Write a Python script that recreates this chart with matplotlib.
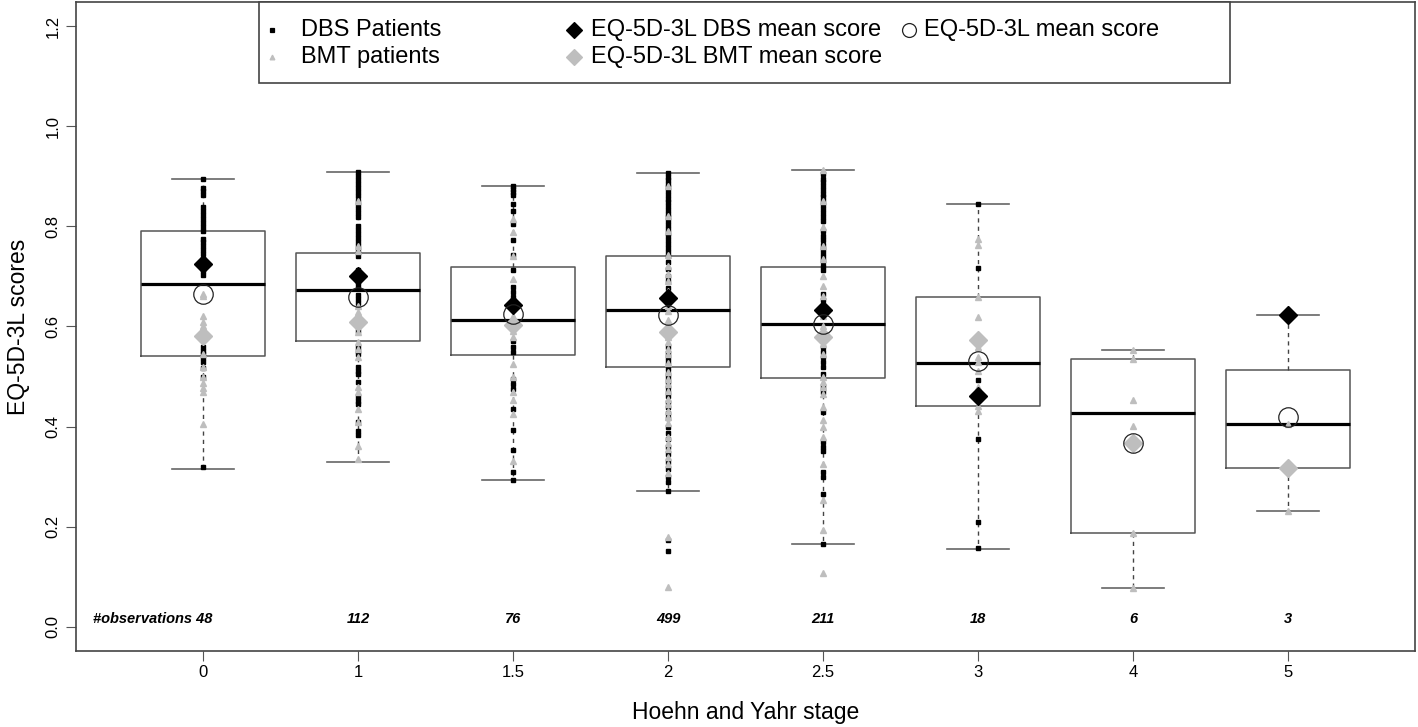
import numpy as np
import matplotlib
matplotlib.use("Agg")
import matplotlib.pyplot as plt
from matplotlib.patches import Rectangle

plt.rcParams['font.family'] = ['Liberation Sans', 'DejaVu Sans']

# Hoehn and Yahr stages and number of observations
stages = ['0', '1', '1.5', '2', '2.5', '3', '4', '5']
n_obs = [48, 112, 76, 499, 211, 18, 6, 3]

# box statistics
whislo = [0.315, 0.329, 0.294, 0.271, 0.166, 0.156, 0.077, 0.231]
q1 = [0.542, 0.572, 0.544, 0.520, 0.497, 0.442, 0.188, 0.318]
med = [0.685, 0.672, 0.613, 0.633, 0.604, 0.528, 0.427, 0.405]
q3 = [0.790, 0.747, 0.719, 0.741, 0.718, 0.659, 0.535, 0.514]
whishi = [0.895, 0.909, 0.880, 0.906, 0.912, 0.844, 0.554, 0.623]

# mean scores
dbs_mean = [0.724, 0.700, 0.642, 0.657, 0.633, 0.462, np.nan, 0.623]
bmt_mean = [0.581, 0.608, 0.602, 0.589, 0.580, 0.574, 0.367, 0.318]
all_mean = [0.665, 0.659, 0.624, 0.622, 0.604, 0.531, 0.367, 0.419]

# individual patient scores (visible values)
dbs_points = [
    [0.895, 0.877, 0.870, 0.862, 0.838, 0.830, 0.822, 0.815, 0.806, 0.798, 0.790,
     0.775, 0.768, 0.760, 0.752, 0.745, 0.735, 0.728, 0.718, 0.710, 0.702, 0.560,
     0.552, 0.545, 0.538, 0.530, 0.518, 0.500, 0.319],
    [0.909, 0.900, 0.892, 0.885, 0.876, 0.868, 0.860, 0.850, 0.842, 0.835, 0.826,
     0.818, 0.800, 0.792, 0.784, 0.776, 0.768, 0.760, 0.748, 0.740, 0.712, 0.704,
     0.696, 0.688, 0.680, 0.662, 0.655, 0.646, 0.600, 0.592, 0.560, 0.552, 0.545,
     0.520, 0.512, 0.505, 0.490, 0.460, 0.452, 0.445, 0.410, 0.392, 0.384],
    [0.880, 0.875, 0.868, 0.862, 0.845, 0.830, 0.805, 0.772, 0.742, 0.712, 0.678,
     0.668, 0.659, 0.650, 0.572, 0.559, 0.549, 0.496, 0.486, 0.476, 0.436, 0.393,
     0.353, 0.310, 0.294],
    [0.906, 0.898, 0.892, 0.885, 0.878, 0.870, 0.862, 0.855, 0.848, 0.840, 0.832,
     0.825, 0.818, 0.810, 0.802, 0.795, 0.787, 0.780, 0.772, 0.765, 0.757, 0.748,
     0.740, 0.728, 0.715, 0.700, 0.690, 0.676, 0.662, 0.655, 0.560, 0.548, 0.540,
     0.532, 0.524, 0.515, 0.505, 0.498, 0.490, 0.480, 0.470, 0.462, 0.450, 0.440,
     0.428, 0.418, 0.400, 0.388, 0.376, 0.360, 0.346, 0.330, 0.316, 0.300, 0.290,
     0.271, 0.174, 0.152],
    [0.905, 0.895, 0.888, 0.880, 0.872, 0.865, 0.858, 0.850, 0.842, 0.835, 0.826,
     0.818, 0.810, 0.790, 0.780, 0.772, 0.762, 0.755, 0.746, 0.738, 0.730, 0.720,
     0.712, 0.665, 0.652, 0.640, 0.560, 0.550, 0.540, 0.530, 0.520, 0.505, 0.480,
     0.470, 0.430, 0.370, 0.360, 0.352, 0.309, 0.300, 0.266, 0.166],
    [0.844, 0.717, 0.494, 0.376, 0.210, 0.158],
    [],
    [0.623],
]
bmt_points = [
    [0.665, 0.620, 0.608, 0.600, 0.592, 0.545, 0.520, 0.500, 0.488, 0.478, 0.470,
     0.405, 0.660],
    [0.850, 0.760, 0.750, 0.640, 0.628, 0.590, 0.570, 0.555, 0.540, 0.480, 0.470,
     0.436, 0.410, 0.362, 0.335],
    [0.815, 0.788, 0.740, 0.695, 0.620, 0.592, 0.579, 0.526, 0.500, 0.470, 0.453,
     0.426, 0.332],
    [0.880, 0.820, 0.790, 0.742, 0.720, 0.705, 0.690, 0.670, 0.650, 0.640, 0.630,
     0.612, 0.600, 0.590, 0.580, 0.570, 0.555, 0.545, 0.528, 0.510, 0.495, 0.485,
     0.472, 0.455, 0.445, 0.432, 0.420, 0.408, 0.380, 0.368, 0.355, 0.340, 0.325,
     0.308, 0.180, 0.080],
    [0.912, 0.850, 0.798, 0.760, 0.735, 0.700, 0.680, 0.660, 0.620, 0.600, 0.575,
     0.565, 0.545, 0.500, 0.490, 0.480, 0.466, 0.440, 0.414, 0.400, 0.380, 0.326,
     0.253, 0.193, 0.107],
    [0.775, 0.762, 0.659, 0.619, 0.575, 0.560, 0.540, 0.530, 0.512, 0.480, 0.442,
     0.432],
    [0.554, 0.535, 0.454, 0.401, 0.188, 0.077],
    [0.405, 0.231],
]

pos = np.arange(1, len(stages) + 1)
gray = '#BEBEBE'

fig = plt.figure(figsize=(14.18, 7.27), dpi=100)
ax = fig.add_axes([76 / 1418, 76 / 727, 1339 / 1418, 649 / 727])

stats = []
for i in range(len(stages)):
    stats.append(dict(whislo=whislo[i], q1=q1[i], med=med[i], q3=q3[i],
                      whishi=whishi[i], fliers=[]))

ax.bxp(stats, positions=pos, widths=0.8, capwidths=0.4, showfliers=False,
       boxprops=dict(color='#555555', lw=1.1),
       medianprops=dict(color='black', lw=2.3),
       whiskerprops=dict(color='#444444', lw=1.0, linestyle=(0, (3, 3))),
       capprops=dict(color='#666666', lw=1.2))

for i in range(len(stages)):
    if dbs_points[i]:
        ax.plot(np.full(len(dbs_points[i]), pos[i]), dbs_points[i], 's',
                color='black', ms=3.5, ls='none', zorder=3)
for i in range(len(stages)):
    if bmt_points[i]:
        ax.plot(np.full(len(bmt_points[i]), pos[i]), bmt_points[i], '^',
                color=gray, ms=3.8, ls='none', zorder=3)

ax.plot(pos, dbs_mean, 'D', color='black', ms=8.8, ls='none', zorder=4)
ax.plot(pos, bmt_mean, 'D', color=gray, ms=8.8, ls='none', zorder=4)
ax.plot(pos, all_mean, 'o', mfc='none', mec='#222222', mew=0.9, ms=14,
        ls='none', zorder=5)

# observation counts
for i, n in enumerate(n_obs):
    if i == 0:
        ax.text(pos[i] + 0.058, 0.015, '#observations %d' % n, ha='right',
                va='center', fontsize=10.5, fontweight='bold', style='italic')
    else:
        ax.text(pos[i], 0.015, str(n), ha='center', va='center',
                fontsize=10.5, fontweight='bold', style='italic')

ax.set_xlim(0.18, 8.82)
ax.set_ylim(-0.048, 1.248)
ax.set_xticks(pos)
ax.set_xticklabels(stages)
ax.set_yticks([0.0, 0.2, 0.4, 0.6, 0.8, 1.0, 1.2])
ax.set_yticklabels(['0.0', '0.2', '0.4', '0.6', '0.8', '1.0', '1.2'],
                   rotation=90, va='center')
ax.tick_params(axis='both', labelsize=12, length=7, color='#555555')
ax.tick_params(axis='x', pad=3)
ax.tick_params(axis='y', pad=4)
for s in ax.spines.values():
    s.set_color('#444444')
    s.set_linewidth(1.2)

ax.set_xlabel('Hoehn and Yahr stage', fontsize=16.5, labelpad=15)
ax.set_ylabel('EQ-5D-3L scores', fontsize=16.5, labelpad=11)


# legend drawn by hand (R style, fixed column positions)
def frac(px, py):
    return ((px - 76) / 1339, (651 - py) / 649)


x0, y0 = frac(259, 83)
x1, y1 = frac(1230, 2)
ax.add_patch(Rectangle((x0, y0), x1 - x0, y1 - y0, transform=ax.transAxes,
                       fill=True, facecolor='white', edgecolor='#444444',
                       lw=1.2, zorder=6, clip_on=False))

entries = [
    (272, 30, 301, 's', 'black', 'black', 3.2, 'DBS Patients'),
    (272, 57, 301, '^', gray, gray, 3.4, 'BMT patients'),
    (574, 30, 591, 'D', 'black', 'black', 8, 'EQ-5D-3L DBS mean score'),
    (574, 57, 591, 'D', gray, gray, 8, 'EQ-5D-3L BMT mean score'),
    (909, 30, 924, 'o', 'none', '#222222', 10, 'EQ-5D-3L mean score'),
]
for px, py, tpx, mk, fc, ec, ms, label in entries:
    mx, my = frac(px, py)
    ax.plot([mx], [my], mk, mfc=fc, mec=ec, ms=ms, mew=0.9,
            transform=ax.transAxes, zorder=7, clip_on=False)
    tx, ty = frac(tpx, py)
    ax.text(tx, ty, label, transform=ax.transAxes, ha='left', va='center',
            fontsize=17, zorder=7)

fig.savefig('out.png', dpi=100)
